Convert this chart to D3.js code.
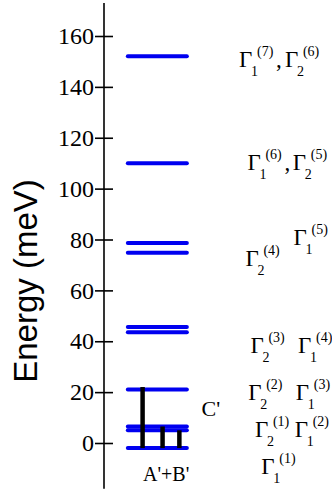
<!DOCTYPE html>
<html>
<head>
<meta charset="utf-8">
<script src="https://cdn.jsdelivr.net/npm/d3@7"></script>
<style>
  html, body { margin: 0; padding: 0; background: #fff; }
  svg { display: block; }
</style>
</head>
<body>
<div id="chart"></div>
<script>
// Energy levels (meV), drawn as blue horizontal bars
const levels = [152, 110, 78.6, 74.8, 45.6, 43.5, 21, 6.5, 5, -2];
// Level extent along the (unitless) horizontal position axis
const levelSpan = [1.05, 3.65];

// Black transition bars: position and top energy, all start at the ground level
const barPos = [1.7, 2.58, 3.32];
const barTop = [22, 6.5, 5];
const barBase = -2;

const yTicks = [0, 20, 40, 60, 80, 100, 120, 140, 160];

// Irrep labels: [subscript, superscript] terms, left position of each term, baseline energy
const gammaRows = [
  { terms: [["1", "(7)"], ["2", "(6)"]], xs: [5.95, 7.97], comma: true, e: 148.0 },
  { terms: [["1", "(6)"], ["2", "(5)"]], xs: [6.32, 8.32], comma: true, e: 107.2 },
  { terms: [["1", "(5)"]], xs: [8.35], comma: false, e: 77.7 },
  { terms: [["2", "(4)"]], xs: [6.23], comma: false, e: 69.5 },
  { terms: [["2", "(3)"], ["1", "(4)"]], xs: [6.45, 8.55], comma: false, e: 35.5 },
  { terms: [["2", "(2)"], ["1", "(3)"]], xs: [6.35, 8.45], comma: false, e: 16.9 },
  { terms: [["2", "(1)"], ["1", "(2)"]], xs: [6.65, 8.4], comma: false, e: 2.3 },
  { terms: [["1", "(1)"]], xs: [6.93], comma: false, e: -12.2 },
];

const W = 332, H = 489;
const SERIF = "'Liberation Serif', 'Times New Roman', serif";
const SANS = "'Liberation Sans', Arial, sans-serif";

const svg = d3.select("#chart").append("svg")
  .attr("width", W).attr("height", H);

const y = d3.scaleLinear().domain([0, 160]).range([443, 36]);
const x = d3.scaleLinear().domain([0, 10]).range([104, 331]);

// Axis: vertical line spanning the full height, ticks crossing both sides
const axisX = x(0);
svg.append("line")
  .attr("x1", axisX).attr("x2", axisX)
  .attr("y1", y(173)).attr("y2", y(-18))
  .attr("stroke", "#000").attr("stroke-width", 1.6);

const ax = svg.append("g").attr("transform", `translate(${axisX},0)`)
  .call(d3.axisLeft(y).tickValues(yTicks).tickSize(9).tickFormat(""));
ax.select(".domain").remove();
ax.selectAll(".tick line").attr("x2", 9).attr("x1", -9)
  .attr("stroke", "#000").attr("stroke-width", 1.6);

// Tick labels (serif, larger than d3 default)
svg.append("g").selectAll("text").data(yTicks).join("text")
  .attr("x", axisX - 10).attr("y", d => y(d))
  .attr("dy", "0.34em")
  .attr("text-anchor", "end")
  .attr("font-family", SERIF).attr("font-size", 24).attr("fill", "#000")
  .text(d => d);

// Axis title
svg.append("text")
  .attr("transform", `translate(37, ${281}) rotate(-90)`)
  .attr("text-anchor", "middle")
  .attr("font-family", SANS).attr("font-size", 33).attr("fill", "#000")
  .text("Energy (meV)");

// Energy levels
svg.append("g").selectAll("line").data(levels).join("line")
  .attr("x1", x(levelSpan[0])).attr("x2", x(levelSpan[1]))
  .attr("y1", d => y(d)).attr("y2", d => y(d))
  .attr("stroke", "#0000f0").attr("stroke-width", 4).attr("stroke-linecap", "round");

// Transition bars
svg.append("g").selectAll("line").data(barPos).join("line")
  .attr("x1", d => x(d)).attr("x2", d => x(d))
  .attr("y1", y(barBase)).attr("y2", (d, i) => y(barTop[i]))
  .attr("stroke", "#000").attr("stroke-width", 4.5);

// Labels
svg.append("text")
  .attr("x", x(1.72)).attr("y", y(-14.9))
  .attr("font-family", SERIF).attr("font-size", 20).attr("fill", "#000")
  .text("A'+B'");
svg.append("text")
  .attr("x", x(4.3)).attr("y", y(10.6))
  .attr("font-family", SERIF).attr("font-size", 22).attr("fill", "#000")
  .text("C'");

function gammaTerm(g, x0, b, sub, sup) {
  g.append("text").attr("x", x0).attr("y", b)
    .attr("font-size", 23).text("Γ");
  g.append("text").attr("x", x0 + 12).attr("y", b + 9)
    .attr("font-size", 14).text(sub);
  g.append("text").attr("x", x0 + 18).attr("y", b - 11)
    .attr("font-size", 14).text(sup);
}

const lab = svg.append("g").attr("font-family", SERIF).attr("fill", "#000");
for (const row of gammaRows) {
  const b = y(row.e);
  row.terms.forEach(([sub, sup], i) => {
    gammaTerm(lab, x(row.xs[i]), b, sub, sup);
  });
  if (row.comma) {
    lab.append("text").attr("x", x(row.xs[0]) + 37).attr("y", b)
      .attr("font-size", 23).text(",");
  }
}
</script>
</body>
</html>
